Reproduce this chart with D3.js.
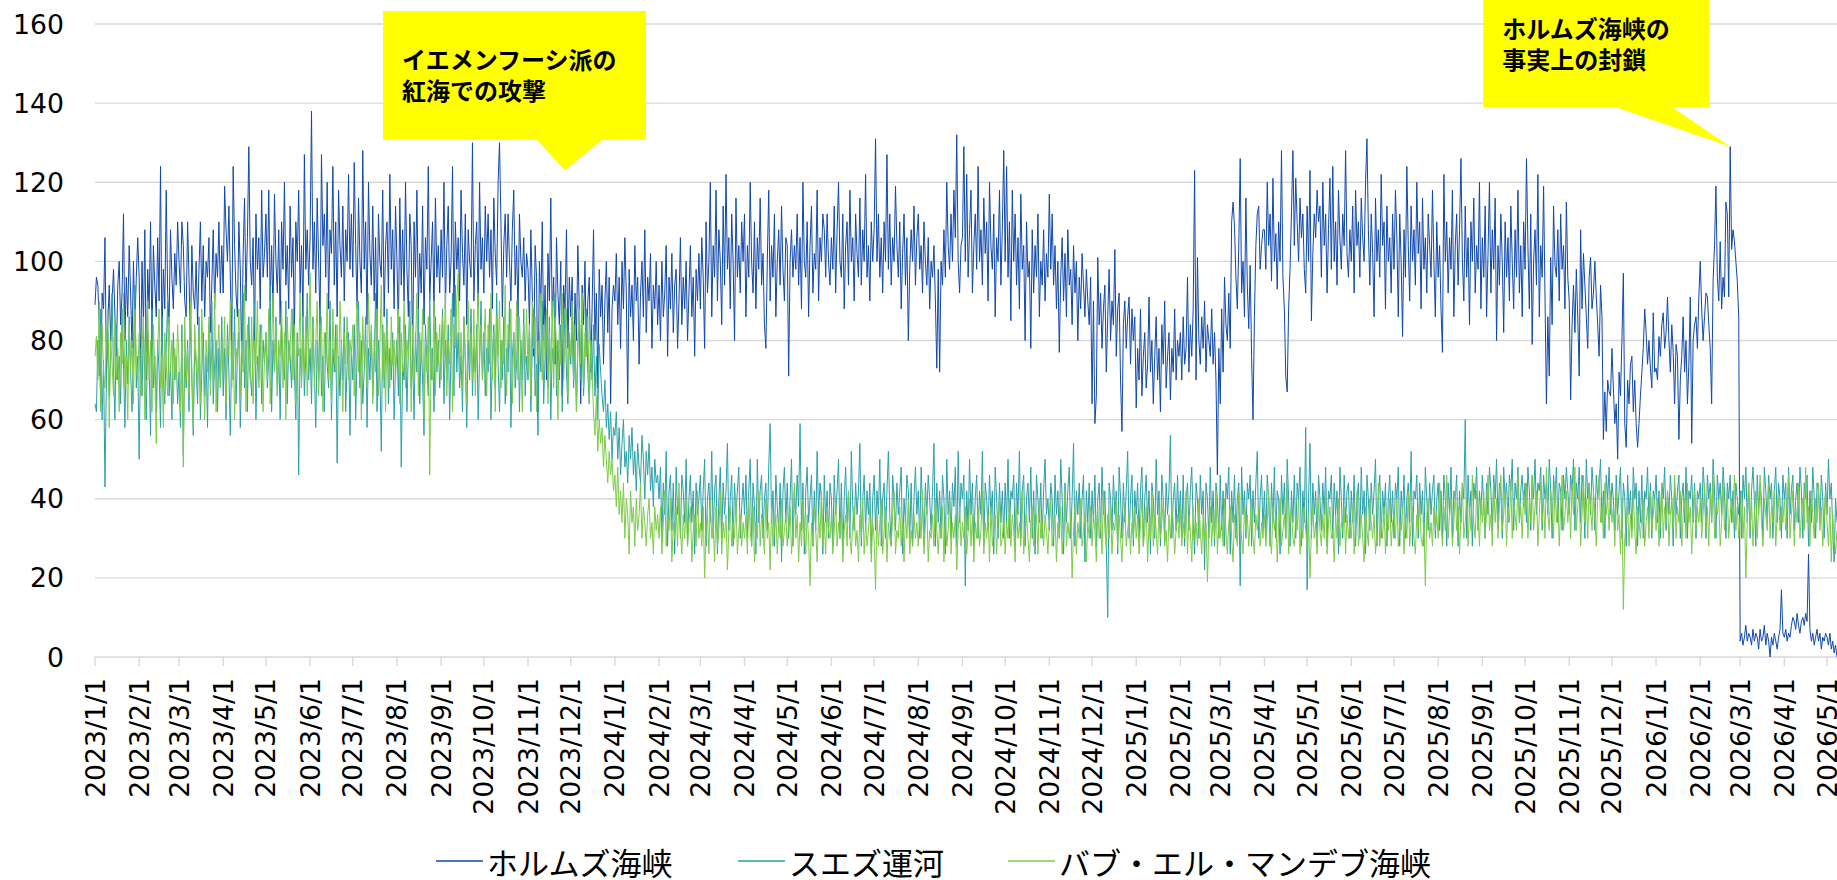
<!DOCTYPE html>
<html>
<head>
<meta charset="utf-8">
<script src="https://cdn.jsdelivr.net/npm/d3@7"></script>
<style>
  body { margin: 0; background: #fff; }
  svg { display: block; }
  .tick-label { font-family: 'DejaVu Sans', Verdana, sans-serif; font-size: 26.7px; fill: #000; }
  .legend-text { font-family: 'Noto Sans CJK JP', sans-serif; font-size: 31px; fill: #000; }
  .note-text { font-family: 'Noto Sans CJK JP', sans-serif; font-size: 24px; font-weight: bold; fill: #000; }
</style>
</head>
<body>
<svg></svg>
<script>
// series names (legend order)
const seriesNames = ['ホルムズ海峡', 'スエズ運河', 'バブ・エル・マンデブ海峡'];
const seriesColors = ['#1048ac', '#2ba0a8', '#7ccb48'];
const yTicks = [0, 20, 40, 60, 80, 100, 120, 140, 160];

// daily values, one line per month, starting 2023/1/1
const hormuz2023 = [
  89,96,94,84,64,92,88,106,72,84,94,80,90,98,86,76,94,100,84,92,112,80,96,86,104,92,78,100,84,96,106,
  96,72,100,84,108,70,98,88,110,80,104,94,86,106,90,124,80,98,88,118,92,84,108,96,88,102,94,110,
  100,92,110,104,90,86,110,96,80,104,92,88,100,84,98,110,90,104,86,100,96,106,82,94,108,88,102,96,110,92,104,
  92,119,108,100,114,96,78,124,104,92,86,110,98,74,102,116,90,106,129,100,94,106,80,112,98,106,88,118,96,102,
  112,96,118,90,104,86,117,100,92,108,84,110,98,120,94,104,88,114,96,106,82,110,100,118,92,104,86,127,98,108,94,
  106,138,98,110,92,116,100,84,127,104,112,96,120,88,108,102,124,94,110,86,118,104,96,114,90,108,100,122,98,112,
  96,125,104,88,116,100,92,128,98,110,84,120,102,94,114,90,106,80,112,100,96,118,86,104,110,92,122,98,108,88,114,
  100,82,116,94,108,90,120,98,86,112,104,76,110,96,118,88,102,92,114,84,106,98,124,90,100,110,86,116,96,104,92,
  108,96,120,88,104,114,92,100,124,86,110,98,106,90,118,102,94,112,84,108,100,96,130,90,104,110,88,120,98,106,
  92,114,100,112,96,108,88,116,102,94,120,130,110,86,104,112,96,112,100,90,108,118,94,104,86,112,100,96,106,90,102,
  98,84,108,92,76,104,96,62,100,88,110,80,94,70,102,90,116,86,96,74,106,92,84,100,66,94,88,108,78,96,
  86,96,70,92,80,104,88,64,94,84,100,76,90,96,72,88,108,80,92,68,98,86,94,74,90,100,82,96,64,88,94
];
const hormuz2024 = [
  90,102,84,96,78,100,88,106,92,64,98,86,94,80,104,90,96,74,92,100,86,108,82,96,90,102,78,94,88,100,84,
  94,80,100,86,92,104,76,96,88,102,82,94,98,78,90,106,84,96,88,100,80,92,104,86,96,76,98,90,102,
  88,106,96,78,110,92,100,120,86,104,96,118,90,108,100,84,114,94,122,98,106,88,112,100,80,116,96,104,92,110,100,
  112,86,104,96,120,100,92,110,88,106,98,116,94,102,84,78,100,118,90,104,96,112,86,100,108,94,114,98,90,106,
  104,71,100,108,96,104,98,112,94,106,88,120,100,96,110,86,104,114,92,102,98,118,90,106,100,112,108,96,112,100,94,
  106,98,114,92,108,120,100,96,112,88,104,110,94,118,100,106,90,112,102,96,116,94,108,100,122,96,104,90,110,100,
  108,131,100,112,96,106,92,110,100,127,98,112,94,106,100,119,104,96,110,88,102,112,94,106,80,98,108,100,114,94,106,
  112,98,104,92,110,100,94,106,88,100,96,104,90,73,98,72,100,94,108,96,120,104,98,112,100,118,106,132,100,92,104,
  106,129,100,122,96,108,118,92,104,112,98,124,100,108,94,116,102,110,90,120,104,98,112,86,106,100,118,94,108,128,
  100,124,96,110,85,118,100,112,94,106,88,117,98,104,80,110,96,100,78,108,92,104,96,112,86,100,94,108,90,102,96,
  117,98,112,94,104,88,100,77,96,106,90,102,86,108,94,98,84,104,92,100,80,96,88,102,94,86,98,90,84,96,
  64,90,59,66,101,84,92,78,88,94,72,86,98,80,90,84,103,76,88,92,70,57,84,90,78,86,91,74,88,80,86
];
const hormuz2025 = [
  63,78,70,88,66,76,82,68,74,91,72,80,64,76,86,70,78,62,84,74,90,68,76,82,65,78,72,88,70,80,76,
  82,70,86,74,78,96,72,84,76,88,123,70,101,80,74,86,78,90,72,84,80,76,88,74,82,70,46,78,
  64,88,72,96,84,80,92,78,110,115,109,96,88,104,126,92,100,86,116,94,83,99,76,60,86,104,112,114,98,104,108,
  108,98,120,104,112,95,121,100,107,93,110,100,128,96,88,71,67,88,98,112,128,104,121,110,100,116,106,112,98,92,
  114,100,123,85,102,112,106,118,110,114,96,120,104,112,92,108,121,98,124,100,110,94,118,106,98,112,104,128,102,96,108,
  100,114,92,118,104,110,96,116,106,100,120,131,108,94,112,102,86,116,100,108,96,122,104,110,88,114,100,106,92,112,
  98,118,106,86,112,100,81,108,96,124,104,90,114,100,108,94,120,102,110,88,116,98,106,92,112,104,96,118,100,86,110,
  96,104,88,77,122,100,110,92,106,98,118,86,104,112,94,108,126,100,90,114,96,106,84,110,100,116,92,104,98,120,88,
  106,96,114,86,102,120,92,108,98,116,80,104,94,112,100,82,110,96,106,90,114,100,88,108,96,118,92,104,86,110,
  98,126,104,88,112,79,100,108,94,122,86,104,96,119,91,64,86,71,101,84,114,99,96,108,90,112,98,104,88,115,96,
  90,65,84,94,82,98,86,71,108,88,102,94,86,78,96,101,88,92,100,91,84,76,94,86,55,67,57,70,67,66,
  78,68,59,64,50,72,66,80,97,59,53,70,64,74,76,62,70,59,53,59,66,72,78,88,82,74,80,73,68,87,72
];
const hormuz2026 = [
  73,70,81,76,84,87,78,82,91,80,72,84,77,64,79,76,55,70,76,86,72,80,64,74,91,54,80,84,86,78,91,
  100,88,80,86,92,91,84,78,64,95,104,119,96,90,105,88,96,91,115,112,91,129,103,108,105,100,95,86,
  4,6,3,5,8,4,6,5,3,7,4,6,5,2,7,4,5,8,3,6,4,0,5,3,6,4,2,5,7,17,6,
  5,7,4,6,5,8,10,9,7,11,8,6,9,10,8,11,9,26,7,4,6,3,5,7,4,6,2,5,4,6,
  5,3,6,2,4,1,3,0
];

const suez2023 = [
  64,62,80,71,88,60,75,43,70,82,66,78,92,72,60,84,70,76,64,88,74,58,80,69,86,72,62,78,94,68,76,
  50,78,66,84,70,60,82,74,56,88,68,76,62,80,72,58,86,70,64,78,90,66,74,60,82,70,76,64,
  72,58,84,51,76,68,80,62,88,70,56,78,74,64,86,60,72,82,66,76,58,84,70,90,64,74,80,62,78,68,86,
  66,78,60,84,72,56,80,70,88,64,76,82,58,74,92,68,80,62,86,72,66,78,90,60,76,70,84,64,80,74,
  82,68,76,94,62,80,72,86,66,78,60,84,74,70,90,64,80,76,68,88,72,60,82,46,78,70,86,66,76,92,70,
  78,64,86,72,58,80,70,88,66,76,62,82,74,68,90,60,78,72,84,49,76,66,80,70,86,62,74,82,56,78,
  70,84,60,76,90,68,80,64,72,86,58,78,70,82,66,74,92,62,80,72,52,84,68,76,88,64,78,70,82,60,74,
  80,66,86,48,74,70,84,62,78,90,68,76,60,82,72,88,64,80,70,56,84,74,66,92,70,78,62,86,72,80,68,
  76,88,64,80,70,84,60,78,92,66,94,72,82,68,76,62,86,74,58,80,70,88,66,78,72,84,60,76,90,70,
  82,66,78,72,88,60,76,84,68,92,74,62,80,70,86,64,78,72,90,58,76,82,68,74,86,62,80,70,88,66,76,
  70,84,62,78,88,66,74,56,82,72,90,64,76,80,68,86,60,78,74,92,66,80,70,84,62,76,88,72,64,80,
  74,86,68,80,62,78,90,70,82,66,76,88,72,64,80,70,84,66,76,60,79,72,66,62,70,58,64,55,62,50,58
];
const suez2024 = [
  56,62,50,58,46,54,60,48,52,44,56,50,58,46,52,42,54,48,44,56,50,40,52,46,54,42,48,38,50,44,46,
  40,48,30,44,36,52,28,42,46,32,44,26,48,36,40,30,46,42,34,50,28,40,46,34,42,26,44,36,40,
  46,32,42,50,28,40,44,34,52,30,42,46,26,40,48,30,44,36,42,54,32,40,46,28,44,36,42,48,30,38,44,
  36,46,30,42,50,28,44,38,26,50,34,42,46,30,40,44,32,48,59,34,42,28,46,38,32,44,24,42,48,34,
  44,30,40,50,28,42,36,46,38,59,32,44,26,42,48,34,40,46,28,42,32,52,36,44,40,26,46,34,42,30,44,
  40,28,46,36,42,50,30,44,26,40,48,34,42,30,52,38,32,44,36,42,54,28,40,46,32,42,36,44,26,40,
  46,32,42,36,50,28,40,44,30,42,52,36,28,46,40,32,44,36,42,48,26,40,34,46,42,30,44,28,40,48,36,
  42,30,48,38,28,44,36,46,40,32,42,54,28,44,34,42,30,46,40,26,50,36,42,30,44,38,48,28,52,34,44,
  40,46,18,42,32,50,36,44,28,40,46,30,42,36,52,28,44,40,32,46,36,42,26,48,40,30,44,34,42,30,
  44,34,50,30,42,40,46,28,44,36,52,30,42,46,28,40,44,34,48,30,42,26,46,40,34,44,30,42,50,36,40,
  32,44,40,28,46,36,42,30,50,40,26,44,34,42,48,30,40,54,28,42,36,44,30,40,46,24,42,34,44,30,
  42,34,46,28,40,44,30,48,36,42,28,10,44,40,32,46,36,42,26,48,40,30,44,34,42,52,30,40,46,28,42
];
const suez2025 = [
  36,44,30,42,48,28,40,46,34,42,26,44,40,30,50,36,42,28,46,40,30,44,36,42,56,30,40,44,32,46,34,
  42,30,46,28,40,44,32,42,48,34,26,44,40,30,46,36,42,22,44,40,30,48,34,42,28,44,40,30,
  46,32,42,28,44,40,48,26,42,34,46,30,40,44,18,48,36,42,30,44,40,46,28,42,34,44,52,30,40,46,32,
  42,30,46,40,28,44,34,48,30,42,40,26,46,36,44,30,50,40,28,42,34,46,30,44,40,48,28,42,34,58,
  17,40,54,30,44,36,42,28,46,40,32,44,36,48,28,42,40,46,30,44,36,42,26,48,40,30,46,34,42,44,30,
  42,34,46,28,40,44,30,48,36,42,26,46,40,32,44,36,42,50,28,40,46,30,42,36,44,28,40,46,34,42,
  30,44,40,48,28,42,36,46,30,40,44,34,52,28,42,40,46,30,44,36,42,28,48,40,32,44,36,42,46,30,40,
  44,32,42,30,46,40,28,44,36,48,30,42,40,46,28,42,34,44,40,60,30,46,36,42,28,44,40,48,32,42,36,
  46,38,30,44,36,48,42,32,46,40,50,34,44,42,30,48,40,44,34,46,42,50,32,44,40,48,34,42,46,38,
  44,34,48,42,32,46,40,50,36,44,42,48,32,46,40,44,36,50,42,30,46,40,48,34,44,42,32,46,40,48,42,
  36,46,42,50,32,44,40,48,34,46,42,30,50,40,44,36,48,42,32,46,40,44,50,34,42,30,46,40,48,36,
  44,40,32,46,36,42,48,30,44,40,28,46,36,42,32,48,40,44,28,42,34,46,30,42,40,48,34,44,30,42,40
];
const suez2026 = [
  46,34,42,30,44,40,48,32,42,36,46,40,28,44,36,42,46,30,40,44,34,48,30,42,40,46,34,44,30,42,40,
  44,34,48,42,30,46,40,44,34,50,42,30,46,40,44,36,48,42,30,44,40,46,34,42,30,44,40,36,
  42,30,46,40,48,34,44,30,42,48,40,28,46,36,44,40,30,48,42,34,46,40,44,30,42,48,34,44,40,30,46,
  40,44,30,48,36,42,46,32,40,44,34,48,42,30,44,40,46,28,42,34,48,40,30,44,42,34,46,40,30,44,
  36,50,40,44,32,24,40,34
];

const bab2023 = [
  76,81,70,90,62,84,72,68,78,88,58,80,74,66,86,70,78,62,82,74,92,68,76,60,84,72,80,64,88,74,70,
  82,66,78,86,60,74,90,70,80,62,84,72,54,78,88,68,76,58,82,74,66,86,72,80,64,78,70,84,
  74,62,80,48,86,70,78,66,90,72,58,84,76,68,82,64,88,74,60,80,72,86,66,78,70,92,62,76,84,68,80,
  72,86,64,80,76,90,68,82,60,78,74,88,66,80,72,94,62,84,76,70,86,64,80,74,90,68,78,84,62,76,
  82,70,88,64,78,92,72,84,66,80,76,90,68,82,60,86,74,78,88,70,84,64,80,76,92,68,82,72,86,66,78,
  97,72,84,68,80,90,66,78,86,62,82,74,92,70,80,64,88,76,72,84,68,90,78,62,82,74,86,70,80,76,
  84,66,78,90,72,82,60,86,74,80,68,92,76,84,64,80,72,88,66,78,94,70,82,62,84,76,68,86,74,80,70,
  78,88,64,82,72,90,68,80,76,86,62,84,70,78,92,66,82,74,88,60,80,72,86,46,78,70,90,66,82,74,84,
  70,86,76,92,66,80,74,88,62,84,78,90,97,72,82,68,86,76,64,90,74,82,70,88,66,80,92,74,84,70,
  80,88,66,84,74,92,70,82,62,86,76,90,68,80,74,94,66,84,78,88,64,82,72,90,70,86,76,62,84,74,88,
  72,84,66,90,78,86,62,80,74,92,70,84,76,88,64,82,72,90,68,86,78,60,84,74,92,70,80,88,66,82,
  76,90,70,84,62,80,88,74,92,68,82,76,86,64,80,72,62,56,66,52,60,54,58,48,56,50,44,52,46,50,42
];
const bab2024 = [
  46,38,48,36,42,34,44,30,40,36,26,42,34,38,28,40,32,36,44,30,38,34,28,36,40,30,34,26,38,32,36,
  30,38,26,34,42,28,36,32,40,24,34,30,38,28,44,32,26,36,30,40,28,34,38,24,32,36,28,42,30,
  34,28,38,20,32,36,26,40,30,34,24,38,28,32,42,26,34,30,36,22,32,38,28,34,30,40,26,32,36,28,34,
  30,36,26,40,32,28,38,24,34,30,42,28,36,32,26,40,30,34,22,38,28,32,36,26,34,30,40,28,32,36,
  28,34,38,26,32,44,30,36,24,34,28,40,32,26,36,30,18,34,28,38,32,24,36,30,42,28,34,26,38,32,30,
  36,26,32,40,28,34,30,38,24,32,36,28,42,30,26,34,38,28,32,24,36,30,40,26,34,28,32,38,24,34,
  30,17,36,28,34,40,26,32,38,24,34,30,28,36,42,26,32,30,38,28,34,24,36,30,40,26,32,28,36,30,34,
  28,36,30,42,26,34,38,24,32,30,36,28,40,32,26,34,30,38,24,36,28,32,40,26,34,30,36,22,32,38,28,
  34,30,38,26,32,40,28,36,24,34,30,38,28,32,42,26,34,30,36,24,38,28,32,36,26,34,40,28,30,36,
  26,34,30,40,28,36,32,24,38,30,34,28,42,26,32,36,30,24,34,38,28,32,36,26,40,30,34,28,36,32,26,
  34,40,28,32,36,24,34,30,38,26,32,42,28,34,30,36,20,32,38,26,34,30,40,28,32,36,24,34,30,38,
  28,36,32,24,38,30,34,26,42,32,28,36,30,38,26,34,32,40,28,36,30,24,34,38,28,32,36,26,34,30,38
];
const bab2025 = [
  30,36,26,34,40,28,32,38,24,34,30,42,28,36,32,26,38,30,34,40,28,32,24,36,30,38,34,26,32,36,30,
  38,28,34,30,42,26,36,32,24,38,30,34,28,40,32,26,36,30,34,19,32,38,28,36,30,42,26,34,
  30,36,28,40,32,26,34,38,30,24,36,32,28,42,34,30,26,38,32,36,28,34,40,30,26,36,32,38,28,34,30,
  36,28,34,42,30,26,38,32,36,24,34,40,28,32,36,30,44,26,34,38,30,28,36,32,40,26,34,30,38,32,
  28,36,20,32,38,30,34,26,40,32,28,36,30,42,26,34,38,30,32,24,36,30,40,28,34,32,38,26,36,30,34,
  30,38,26,34,42,28,32,36,30,24,38,32,28,40,34,30,36,26,32,44,28,34,30,38,26,36,32,40,28,34,
  36,30,40,28,34,32,38,26,36,30,42,28,34,38,30,26,36,32,40,30,28,34,18,36,40,30,34,28,38,32,36,
  30,44,34,28,38,32,46,30,36,40,28,34,42,32,38,26,36,44,30,34,40,28,38,32,46,34,30,42,36,28,40,
  34,42,30,38,46,32,36,28,44,34,40,30,38,46,32,36,42,28,38,34,44,30,40,36,32,46,34,38,30,42,
  36,44,30,40,34,46,32,38,42,28,36,44,34,40,30,48,36,32,42,38,30,44,34,40,28,38,46,32,36,42,34,
  40,30,44,36,48,32,38,42,28,36,46,34,40,30,44,38,32,42,36,28,40,46,34,38,30,44,36,40,32,42,
  34,38,28,42,32,36,26,40,12,30,34,38,28,36,30,42,32,26,38,34,30,36,40,28,34,38,30,42,32,36,40
];
const bab2026 = [
  32,40,28,36,44,30,38,34,42,28,36,40,32,46,30,38,34,42,28,36,40,30,44,34,38,26,36,42,32,38,34,
  40,30,36,44,32,38,28,42,34,46,30,38,36,40,28,34,44,32,38,42,30,36,40,34,46,32,38,30,
  36,42,30,38,20,34,44,32,40,28,36,42,30,38,46,34,28,40,36,32,44,30,38,34,42,28,36,40,32,38,34,
  40,32,38,46,30,36,42,28,38,34,44,30,36,40,32,48,34,38,28,42,36,30,40,34,44,32,38,28,36,42,
  34,28,38,24,36,30,26,32
];

// callouts: the tip points at a date / value on the chart
const notes = [
  { lines: ['イエメンフーシ派の', '紅海での攻撃'], date: new Date(2023, 10, 27), value: 123 },
  { lines: ['ホルムズ海峡の', '事実上の封鎖'], date: new Date(2026, 1, 22), value: 129 }
];

const width = 1837;
const height = 880;
const margin = { top: 24, right: 0, bottom: 223, left: 95 };
const startDate = new Date(2023, 0, 1);
const endDate = new Date(2026, 4, 8);

const toPoints = values => values.map((v, i) => ({ date: d3.timeDay.offset(startDate, i), value: v }));

const series = [
  hormuz2023.concat(hormuz2024, hormuz2025, hormuz2026),
  suez2023.concat(suez2024, suez2025, suez2026),
  bab2023.concat(bab2024, bab2025, bab2026)
].map(toPoints);

const svg = d3.select('svg')
  .attr('width', width)
  .attr('height', height);

const x = d3.scaleTime().domain([startDate, endDate]).range([margin.left, width - margin.right]);
const y = d3.scaleLinear().domain([0, 160]).range([height - margin.bottom, margin.top]);

// gridlines
svg.append('g')
  .selectAll('line')
  .data(yTicks)
  .enter()
  .append('line')
  .attr('x1', margin.left)
  .attr('x2', width - margin.right)
  .attr('y1', d => y(d))
  .attr('y2', d => y(d))
  .attr('stroke', '#d9d9d9')
  .attr('stroke-width', 1.4);

// y labels
svg.append('g')
  .selectAll('text')
  .data(yTicks)
  .enter()
  .append('text')
  .attr('class', 'tick-label')
  .attr('x', 64)
  .attr('y', d => y(d))
  .attr('text-anchor', 'end')
  .attr('dominant-baseline', 'central')
  .text(d => d);

// x ticks on every month start
const monthTicks = d3.timeMonth.range(startDate, endDate);
const fmt = d => `${d.getFullYear()}/${d.getMonth() + 1}/${d.getDate()}`;

svg.append('g')
  .selectAll('line')
  .data(monthTicks)
  .enter()
  .append('line')
  .attr('x1', d => x(d))
  .attr('x2', d => x(d))
  .attr('y1', y(0))
  .attr('y2', y(0) + 9)
  .attr('stroke', '#d9d9d9')
  .attr('stroke-width', 1.4);

svg.append('g')
  .selectAll('text')
  .data(monthTicks)
  .enter()
  .append('text')
  .attr('class', 'tick-label')
  .attr('transform', d => `translate(${x(d)}, ${y(0) + 21}) rotate(-90)`)
  .attr('text-anchor', 'end')
  .attr('dominant-baseline', 'central')
  .text(fmt);

// the lines
const line = d3.line()
  .x(d => x(d.date))
  .y(d => y(d.value));

svg.append('g')
  .selectAll('path')
  .data(series)
  .enter()
  .append('path')
  .attr('d', line)
  .attr('fill', 'none')
  .attr('stroke', (d, i) => seriesColors[i])
  .attr('stroke-width', 1)
  .attr('stroke-linejoin', 'round');

// callouts
const boxes = [
  { left: -182, right: 81, top: 11, bottom: 140, base0: -28, base1: 37 },
  { left: -247, right: -21, top: -2, bottom: 107, base0: -115, base1: -58 }
];

notes.forEach((n, i) => {
  const tx = x(n.date);
  const ty = y(n.value);
  const b = boxes[i];
  const pts = [
    [tx + b.left, b.top], [tx + b.right, b.top], [tx + b.right, b.bottom],
    [tx + b.base1, b.bottom], [tx, ty], [tx + b.base0, b.bottom], [tx + b.left, b.bottom]
  ];
  svg.append('polygon')
    .attr('points', pts.map(p => p.join(',')).join(' '))
    .attr('fill', '#ffff00');

  const firstLine = i === 0 ? 58 : 27;
  n.lines.forEach((t, j) => {
    svg.append('text')
      .attr('class', 'note-text')
      .attr('x', tx + b.left + 19)
      .attr('y', firstLine + j * 31)
      .attr('dominant-baseline', 'central')
      .text(t);
  });
});

// legend
const legendX = [436, 738, 1008];
const legendY = 861;
const legend = svg.append('g')
  .selectAll('g')
  .data(seriesNames)
  .enter()
  .append('g');

legend.append('line')
  .attr('x1', (d, i) => legendX[i])
  .attr('x2', (d, i) => legendX[i] + 47)
  .attr('y1', legendY)
  .attr('y2', legendY)
  .attr('stroke', (d, i) => seriesColors[i])
  .attr('stroke-width', 1.5);

legend.append('text')
  .attr('class', 'legend-text')
  .attr('x', (d, i) => legendX[i] + 51)
  .attr('y', legendY)
  .attr('dominant-baseline', 'central')
  .text(d => d);
</script>
</body>
</html>
